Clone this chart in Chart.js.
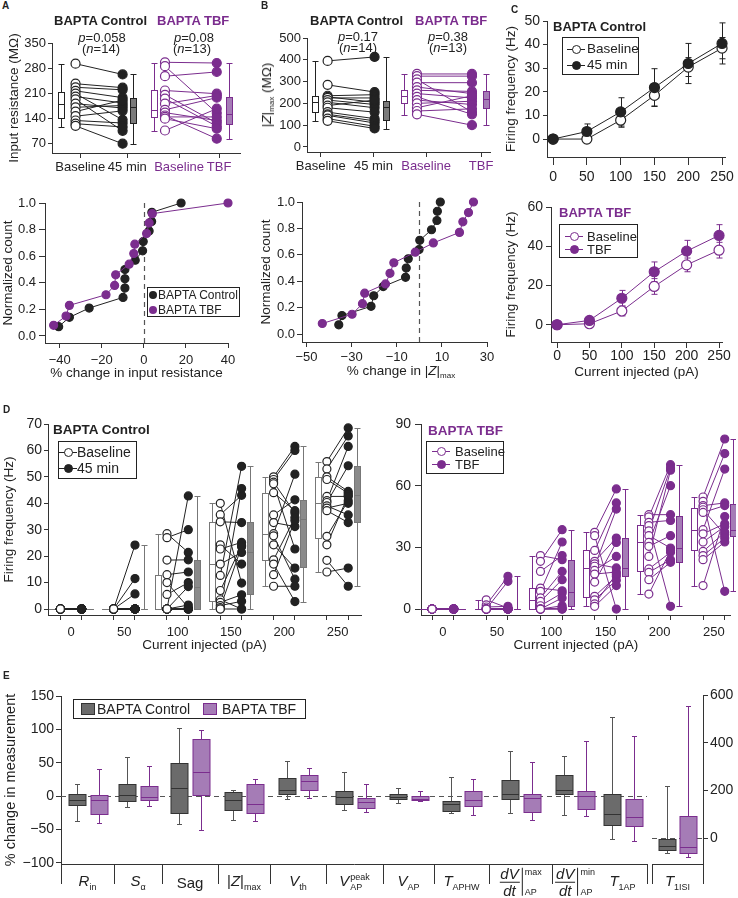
<!doctype html>
<html lang="en">
<head>
<meta charset="UTF-8">
<title>BAPTA Control vs BAPTA TBF</title>
<script src="https://cdn.jsdelivr.net/npm/chart.js@4.4.1/dist/chart.umd.min.js"></script>
<style>
    body { margin: 0; background: #fff; }
    #fig { position: relative; width: 738px; height: 898px; overflow: hidden; background: #fff;
           font-family: 'Liberation Sans', Arial, sans-serif; color: #222; }
    #fig canvas { position: absolute; }
    .t { position: absolute; white-space: nowrap; line-height: 1; }
    .t sub { font-size: 8px; vertical-align: -3px; }
    .cat { font-size: 15px; }
    .cat sub { font-size: 9px; vertical-align: -4px; }
    .ss { display: inline-flex; flex-direction: column; vertical-align: middle; font-size: 9px; line-height: 1.15; margin-left: 1px; }
    .frac { display: inline-flex; flex-direction: column; align-items: center; vertical-align: middle; line-height: 1.05; }
    .frac i:first-child { border-bottom: 1px solid #222; padding: 0 1px; }
    .evbar { display: inline-block; width: 0; height: 28px; border-left: 1px solid #222; vertical-align: middle; margin: 0 1px 0 2px; }
    .box { position: absolute; border: 1px solid #222; box-sizing: border-box; }
    .mk { position: absolute; box-sizing: border-box; }
</style>
</head>
<body>
<div id="fig"></div>
<script>
    // ---------- A: input resistance (MOhm), paired cells ----------
    var aCtrlBase = [292, 236, 226, 216, 208, 200, 192, 180, 170, 158, 145, 133, 124, 118];
    var aCtrlPost = [262, 225, 219, 197, 135, 182, 104, 168, 175, 190, 160, 126, 115, 68];
    var aTbfBase = [296, 285, 257, 217, 205, 194, 180, 163, 155, 147, 143, 138, 105];
    var aTbfPost = [294, 154, 269, 208, 126, 117, 203, 197, 133, 82, 143, 110, 166];
    // box stats are [min, q1, median, q3, max]
    var aCtrlBaseBox = [115, 140, 180, 214, 290];
    var aCtrlPostBox = [68, 126, 170, 197, 262];
    var aTbfBaseBox = [105, 143, 163, 217, 295];
    var aTbfPostBox = [82, 124, 152, 199, 294];
    var aTicks = [70, 140, 210, 280, 350];

    // ---------- B: |Z|max (MOhm) ----------
    var bCtrlBase = [395, 285, 235, 230, 225, 215, 205, 190, 180, 160, 150, 145, 130, 120];
    var bCtrlPost = [413, 252, 240, 205, 225, 195, 180, 215, 160, 130, 120, 110, 95, 85];
    var bTbfBase = [335, 325, 310, 295, 275, 260, 245, 230, 215, 200, 180, 165, 150];
    var bTbfPost = [335, 325, 160, 295, 245, 255, 225, 150, 195, 210, 235, 175, 100];
    var bCtrlBaseBox = [120, 162, 205, 232, 395];
    var bCtrlPostBox = [82, 125, 185, 210, 413];
    var bTbfBaseBox = [145, 200, 235, 262, 335];
    var bTbfPostBox = [100, 180, 218, 255, 335];
    var bTicks = [0, 100, 200, 300, 400, 500];
    var abLabels = ['Baseline', '45 min', 'Baseline', 'TBF'];

    // ---------- A/B lower: cumulative distributions ----------
    var cdfTicks = [0, 0.2, 0.4, 0.6, 0.8, 1.0];
    var ctrlCount = [0.07, 0.14, 0.21, 0.29, 0.36, 0.43, 0.5, 0.57, 0.64, 0.71, 0.79, 0.86, 0.93, 1.0];
    var tbfCount = [0.08, 0.15, 0.23, 0.31, 0.38, 0.46, 0.54, 0.62, 0.69, 0.77, 0.85, 0.92, 1.0];
    var aCdfCtrl = [-40.5, -35.4, -26, -9.9, -9, -9, -9, -4.1, -0.6, -0.3, 2.5, 3.7, 3.8, 17.7];
    var aCdfTbf = [-42.9, -37, -35.4, -18, -13.9, -13.4, -7, -4.8, -4.3, 1.3, 2.5, 4, 40];
    var bCdfCtrl = [-35.7, -34.3, -21.4, -20.2, -16, -6.1, -5.8, -4.9, -0.1, 0.2, 5.4, 7.8, 8, 9.3];
    var bCdfTbf = [-43, -29.8, -25.2, -24.2, -15, -13, -11.3, -1.8, 6.2, 17.8, 19.3, 21.8, 24];
    var aCdfTicks = [-40, -20, 0, 20, 40];
    var bCdfTicks = [-50, -30, -10, 10, 30];

    // ---------- C: mean firing frequency (Hz) +- error ----------
    var cX = [0, 50, 100, 150, 200, 250];
    var cCtrlBase = [0, 0, 8, 18.5, 30.5, 38.5];
    var cCtrlBaseErr = [0, 0, 3, 4.5, 4, 4.5];
    var cCtrlPost = [0, 3.2, 11.5, 21.8, 32, 40.5];
    var cCtrlPostErr = [0, 3.2, 6, 8, 8.5, 8.7];
    var cTbfBase = [0, 0.5, 7, 19.5, 30.5, 38];
    var cTbfBaseErr = [0, 0.5, 2.5, 4, 3.5, 4];
    var cTbfPost = [0, 2.2, 13.5, 27, 37.5, 45.5];
    var cTbfPostErr = [0, 1, 4, 5, 5.5, 5.5];

    // ---------- D: per-cell firing frequency, one list per current step ----------
    var dX = [0, 50, 100, 150, 200, 250];
    var dCtrlBase = [
        [0, 0, 0, 0, 0, 0, 0, 0, 0, 0, 0, 0, 0, 0],
        [0, 0, 0, 0, 0, 0, 0, 0, 0, 0, 0, 0, 0, 0],
        [28.5, 27, 18.5, 13, 10, 5.5, 0, 0, 0, 0, 0, 0, 0, 0],
        [40, 35.7, 33, 24.3, 22.7, 17, 12.7, 7, 3.5, 2.5, 1.3, 0.5, 0, 0],
        [50, 49, 48, 47.4, 44, 35.6, 32.7, 28.5, 27.7, 24.3, 18.6, 17, 13, 8.6],
        [55.8, 53, 50, 49, 42.6, 41, 40.3, 39, 38.2, 37.2, 27.5, 24.3, 18.4, 14]
    ];
    var dCtrlPost = [
        [0, 0, 0, 0, 0, 0, 0, 0, 0, 0, 0, 0, 0, 0],
        [24.2, 11.5, 5.7, 0, 0, 0, 0, 0, 0, 0, 0, 0, 0, 0],
        [21.4, 30, 18.6, 14, 0.5, 10, 42.8, 8.5, 1.5, 0, 0, 0, 0, 0],
        [9.8, 43, 32.7, 17, 25.2, 21.4, 54, 24, 0, 5.4, 2.9, 23.6, 45.6, 0],
        [61.5, 60, 36.3, 22.7, 37.2, 41.3, 31.2, 51, 11.3, 15.5, 34.6, 2.8, 33.5, 8.6],
        [68.5, 65.5, 44.5, 43.8, 42.6, 61.5, 54.2, 35.6, 40, 32.7, 41, 43, 8.6, 15.5]
    ];
    var dCtrlBaseBox = [[0, 0, 0, 0, 0], [0, 0, 0, 0, 0], [0, 0, 0, 13, 28.5],
        [0, 3, 17, 32.8, 40], [8.6, 18.6, 28.5, 44, 50], [14, 27, 40, 50, 55.8]];
    var dCtrlPostBox = [[0, 0, 0, 0, 0], [0, 0, 0, 0, 24.2], [0, 0, 8.5, 18.5, 42.8],
        [0, 5.7, 21.5, 32.8, 54], [2.8, 15.8, 34, 41.3, 61.5], [8.6, 32.8, 43, 54.2, 68.5]];
    var dTbfBase = [
        [0, 0, 0, 0, 0, 0, 0, 0, 0, 0, 0, 0, 0],
        [4.5, 2, 1, 0, 0, 0, 0, 0, 0, 0, 0, 0, 0],
        [26, 23.2, 18.3, 10.2, 8.6, 5.4, 3.7, 1.6, 0, 0, 0, 0, 0],
        [37.3, 35.7, 28.5, 23.2, 22, 20.8, 18.8, 17, 13.1, 6.2, 4.5, 2.5, 1.3],
        [45.9, 44.8, 42.2, 40.6, 38, 35.7, 32.4, 30.5, 25.6, 19.5, 17.8, 14.3, 7.3],
        [54.5, 52.4, 50.3, 49.5, 48.3, 47, 38.6, 36.6, 32.6, 28, 26, 24, 11.4]
    ];
    var dTbfPost = [
        [0, 0, 0, 0, 0, 0, 0, 0, 0, 0, 0, 0, 0],
        [0.5, 15.9, 1.3, 13.5, 0, 0, 0, 0, 0, 0, 0, 0, 0],
        [24, 38.6, 26, 8.9, 32.6, 18.3, 14.3, 7.8, 5.4, 1.6, 0.5, 0, 0],
        [58.4, 0, 51.6, 34.5, 20, 48.6, 25.6, 18, 32.4, 15.9, 14, 17, 11.4],
        [45.9, 70.2, 43.1, 1.3, 68.6, 29.7, 60, 35.7, 67.5, 27.6, 24, 22.7, 28.5],
        [82.7, 8.6, 51.6, 75.6, 36.2, 50.3, 68.1, 41.5, 40.2, 37.3, 34.5, 32.6, 45]
    ];
    var dTbfBaseBox = [[0, 0, 0, 0, 0], [0, 0, 0, 0, 4.5], [0, 0, 4.5, 10, 26],
        [1.3, 6, 20, 28.5, 37.3], [7.3, 18.5, 32.4, 41, 45.9], [11.4, 28.5, 38.6, 49, 54.5]];
    var dTbfPostBox = [[0, 0, 0, 0, 0], [0, 0, 0, 0, 15.9], [0, 1.6, 8.5, 24, 38.6],
        [0, 15.9, 20, 34.5, 58.4], [1.3, 22.7, 29.5, 45.4, 70.2], [8.6, 35.5, 38.6, 51, 82.7]];

    // ---------- E: % change per measurement, [min, q1, median, q3, max] ----------
    var eLabels = ['<i>R</i><sub>in</sub>', '<i>S</i><sub>&alpha;</sub>', 'Sag',
        '|<i>Z</i>|<sub>max</sub>', '<i>V</i><sub>th</sub>',
        '<i>V</i><span class="ss"><span>peak</span><span>AP</span></span>',
        '<i>V</i><sub>AP</sub>', '<i>T</i><sub>APHW</sub>',
        '<span class="frac"><i>dV</i><i>dt</i></span><span class="evbar"></span><span class="ss"><span>max</span><span>&nbsp;</span><span>AP</span></span>',
        '<span class="frac"><i>dV</i><i>dt</i></span><span class="evbar"></span><span class="ss"><span>min</span><span>&nbsp;</span><span>AP</span></span>',
        '<i>T</i><sub>1AP</sub>'];
    var eCtrl = [[-37, -13.5, -5, 4, 18], [-16, -7.5, 2.5, 19, 59], [-42, -25, 13, 49, 101.5],
        [-35, -20, -5, 6.5, 10], [-3.5, 3, 9, 27, 52.5], [-21, -12, -1, 8, 36.5],
        [-10, -3.5, -1, 4, 13], [-25, -22.5, -12, -7, 28], [-25, -4, 4, 24, 67.5],
        [-28.5, 4, 10, 31.5, 60], [-63.5, -42.5, -26, 4, 118]];
    var eTbf = [[-40, -26, -6, 2.5, 40], [-15, -5, -1, 15, 45], [-51, 2.5, 35.5, 85, 99],
        [-37, -25, -11, 19, 25], [-2, 9, 22.5, 32, 41.5], [-23.5, -17, -8.5, -2.5, 19],
        [-7, -6, -3.5, 0, 8], [-28.5, -15, -5, 8, 25], [-36, -23.5, -2, 4, 51.5],
        [-29.5, -18.5, 1, 8, 82.5], [-67.5, -44.5, -31, -4, 90]];
    var eIsiLabel = '<i>T</i><sub>1ISI</sub>';
    var eIsiCtrl = [-63, -49, -31, -4, 219];
    var eIsiTbf = [-80, -63, -38, 95, 554];
    var eTicks = [-100, -50, 0, 50, 100, 150];
    var eIsiTicks = [0, 200, 400, 600];

    // ---------- layout / style ----------
    var ink = '#222';
    var purple = '#7b2d8e';
    var purpleFill = '#a57cb6';
    var eGray = '#6b6b6b';
    var eCatWidths = [53, 48, 56, 52, 56, 57, 51, 55, 63, 46, 49];
    var dOff = 10, dBoxOff = 18;

    var fig = document.getElementById('fig');
    Chart.defaults.font.family = "'Liberation Sans', Arial, sans-serif";
    Chart.defaults.font.size = 13;
    Chart.defaults.color = ink;
    Chart.defaults.animation = false;
    Chart.defaults.responsive = false;
    Chart.defaults.devicePixelRatio = 1;
    Chart.defaults.events = [];
    Chart.defaults.plugins.legend.display = false;
    Chart.defaults.plugins.tooltip.enabled = false;

    var num = function (v) { return v < 0 ? '\u2212' + Math.abs(v) : String(v); };
    var fix1 = function (v) { return v.toFixed(1); };

    var axis = function (pos, min, max, ticks, o) {
        o = o || {};
        var horiz = pos === 'bottom';
        return {
            type: 'linear', position: pos, min: min, max: max,
            afterBuildTicks: function (s) { s.ticks = ticks.map(function (v) { return {value: v}; }); },
            afterFit: function (s) {
                if (horiz) s.height = o.size; else s.width = o.size;
                s.paddingLeft = s.paddingRight = s.paddingTop = s.paddingBottom = 0;
            },
            grid: {drawOnChartArea: false, drawTicks: true, tickLength: o.tl == null ? 5 : o.tl,
                color: '#333', tickColor: o.tickColor || '#333'},
            border: {display: true, color: '#333', width: 1},
            ticks: {padding: o.pad == null ? 3 : o.pad, autoSkip: false, maxRotation: 0, minRotation: 0,
                color: o.color || ink, font: {size: o.fs || 13}, callback: o.fmt || num},
            title: o.title ? {display: true, text: o.title, color: ink, font: {size: o.tfs || 13.5},
                padding: o.tpad || {top: 4, bottom: 4}} : {display: false}
        };
    };

    var makeChart = function (area, m, datasets, scales, plugins) {
        var cv = document.createElement('canvas');
        var w = area[2] - area[0] + m.l + m.r, h = area[3] - area[1] + m.t + m.b;
        cv.width = w;
        cv.height = h;
        cv.style.left = (area[0] - m.l) + 'px';
        cv.style.top = (area[1] - m.t) + 'px';
        fig.appendChild(cv);
        var yRight = scales.y.position === 'right';
        return new Chart(cv, {
            type: 'scatter',
            data: {datasets: datasets},
            options: {
                layout: {padding: {left: yRight ? m.l : 0, right: yRight ? 0 : m.r, top: m.t, bottom: 0}},
                scales: scales
            },
            plugins: plugins || []
        });
    };

    // box & whisker drawn through the chart scales
    var boxPlugin = function (items) {
        return {
            id: 'boxes',
            beforeDatasetsDraw: function (chart) {
                var ctx = chart.ctx, sx = chart.scales.x, sy = chart.scales.y;
                items.forEach(function (b) {
                    var x = Math.round(sx.getPixelForValue(b.x)) + 0.5, hw = b.w / 2, cw = (b.cap || b.w) / 2;
                    var p = b.s.map(function (v) { return Math.round(sy.getPixelForValue(v)) + 0.5; });
                    ctx.save();
                    ctx.lineWidth = 1;
                    ctx.strokeStyle = b.wc || b.lc;
                    ctx.beginPath();
                    ctx.moveTo(x, p[4]); ctx.lineTo(x, p[3]);
                    ctx.moveTo(x, p[1]); ctx.lineTo(x, p[0]);
                    ctx.moveTo(x - cw, p[4]); ctx.lineTo(x + cw, p[4]);
                    ctx.moveTo(x - cw, p[0]); ctx.lineTo(x + cw, p[0]);
                    ctx.stroke();
                    ctx.fillStyle = b.fc;
                    ctx.fillRect(x - hw, p[3], b.w, p[1] - p[3]);
                    ctx.strokeStyle = b.lc;
                    ctx.strokeRect(x - hw, p[3], b.w, p[1] - p[3]);
                    ctx.beginPath();
                    ctx.moveTo(x - hw, p[2]); ctx.lineTo(x + hw, p[2]);
                    ctx.stroke();
                    ctx.restore();
                });
            }
        };
    };

    var errPlugin = function (sets) {
        return {
            id: 'errs',
            beforeDatasetsDraw: function (chart) {
                var ctx = chart.ctx, sx = chart.scales.x, sy = chart.scales.y;
                sets.forEach(function (s) {
                    ctx.save();
                    ctx.strokeStyle = s.color;
                    ctx.lineWidth = 1;
                    ctx.beginPath();
                    s.xs.forEach(function (xv, i) {
                        if (!s.es[i]) return;
                        var x = Math.round(sx.getPixelForValue(xv)) + 0.5;
                        var hi = sy.getPixelForValue(s.ys[i] + s.es[i]), lo = sy.getPixelForValue(s.ys[i] - s.es[i]);
                        ctx.moveTo(x, hi); ctx.lineTo(x, lo);
                        ctx.moveTo(x - 3, hi); ctx.lineTo(x + 3, hi);
                        ctx.moveTo(x - 3, lo); ctx.lineTo(x + 3, lo);
                    });
                    ctx.stroke();
                    ctx.restore();
                });
            }
        };
    };

    var zeroPlugin = function (axisId, value) {
        return {
            id: 'zero',
            beforeDatasetsDraw: function (chart) {
                var ctx = chart.ctx, a = chart.chartArea, s = chart.scales[axisId];
                var p = Math.round(s.getPixelForValue(value)) + 0.5;
                ctx.save();
                ctx.strokeStyle = '#555';
                ctx.lineWidth = 1.2;
                ctx.setLineDash([5, 4]);
                ctx.beginPath();
                if (axisId === 'x') { ctx.moveTo(p, a.top); ctx.lineTo(p, a.bottom); }
                else { ctx.moveTo(a.left, p); ctx.lineTo(a.right, p); }
                ctx.stroke();
                ctx.restore();
            }
        };
    };

    var column = function (x, vals) { return vals.map(function (v) { return {x: x, y: v}; }); };
    var pairs = function (xa, xb, A, B) {
        var d = [];
        A.forEach(function (a, i) { d.push({x: xa, y: a}, {x: xb, y: B[i]}, {x: xb, y: null}); });
        return d;
    };
    var xy = function (xs, ys) { return xs.map(function (x, i) { return {x: x, y: ys[i]}; }); };
    var ptsDs = function (data, color, open, r) {
        return {data: data, showLine: false, pointRadius: r, pointHoverRadius: r,
            pointBackgroundColor: open ? '#fff' : color, pointBorderColor: color, pointBorderWidth: 1.2, clip: false};
    };
    var lineDs = function (data, color, r, open) {
        return {data: data, showLine: true, borderColor: color, borderWidth: 1, spanGaps: false,
            pointRadius: r, pointHoverRadius: r, pointBackgroundColor: open ? '#fff' : color,
            pointBorderColor: color, pointBorderWidth: 1.2, clip: false};
    };

    // ---------- panel A / B (paired plots) ----------
    var pairedPanel = function (area, m, yMin, yMax, yTicks, tickPos, pos, cb, cp, tb, tp, boxes, yTitle) {
        var bx = [
            {x: pos[0], s: boxes[0], w: 6, lc: ink, fc: '#fff'},
            {x: pos[3], s: boxes[1], w: 6, lc: ink, fc: '#7a7a7a'},
            {x: pos[4], s: boxes[2], w: 6, lc: purple, fc: '#fff'},
            {x: pos[7], s: boxes[3], w: 6, lc: purple, fc: purpleFill}
        ];
        return makeChart(area, m, [
            ptsDs(column(pos[2], cp), ink, false, 4.5),
            ptsDs(column(pos[1], cb), ink, true, 4.5),
            ptsDs(column(pos[6], tp), purple, false, 4.5),
            ptsDs(column(pos[5], tb), purple, true, 4.5),
            lineDs(pairs(pos[1], pos[2], cb, cp), ink, 0),
            lineDs(pairs(pos[5], pos[6], tb, tp), purple, 0)
        ], {
            x: axis('bottom', 0, 8, tickPos, {size: m.b, tl: 5, pad: 2,
                fmt: function (v, i) { return abLabels[i]; },
                color: function (c) { return c.index < 2 ? ink : purple; }}),
            y: axis('left', yMin, yMax, yTicks, {size: m.l, tl: 4, pad: 2, title: yTitle, tpad: {top: 6}})
        }, [boxPlugin(bx)]);
    };

    pairedPanel([52, 43, 242, 153], {l: 52, t: 10, r: 4, b: 24}, 42, 350, aTicks,
        [1.2, 3.2, 5.4, 7.1], [0.4, 1.0, 3.0, 3.45, 4.35, 4.8, 7.0, 7.5],
        aCtrlBase, aCtrlPost, aTbfBase, aTbfPost,
        [aCtrlBaseBox, aCtrlPostBox, aTbfBaseBox, aTbfPostBox], 'Input resistance (M\u03a9)');

    pairedPanel([307, 38, 492, 152], {l: 62, t: 8, r: 4, b: 24}, -23, 500, bTicks,
        [0.6, 2.9, 5.2, 7.6], [0.35, 0.9, 2.95, 3.45, 4.25, 4.8, 7.2, 7.8],
        bCtrlBase, bCtrlPost, bTbfBase, bTbfPost,
        [bCtrlBaseBox, bCtrlPostBox, bTbfBaseBox, bTbfPostBox], null);

    // ---------- cumulative plots ----------
    makeChart([45, 203, 228, 343], {l: 45, t: 10, r: 14, b: 40}, [
        lineDs(xy(aCdfTbf, tbfCount), purple, 4),
        lineDs(xy(aCdfCtrl, ctrlCount), ink, 4)
    ], {
        x: axis('bottom', -47, 40, aCdfTicks, {size: 40, tl: 5, pad: 5, title: '% change in input resistance', tpad: {top: 0, bottom: 2}}),
        y: axis('left', -0.053, 1.0, cdfTicks, {size: 45, tl: 6, pad: 3, fmt: fix1, title: 'Normalized count', tpad: {top: 0}})
    }, [zeroPlugin('x', 0)]);

    makeChart([302, 202, 487, 342], {l: 57, t: 10, r: 8, b: 40}, [
        lineDs(xy(bCdfTbf, tbfCount), purple, 4),
        lineDs(xy(bCdfCtrl, ctrlCount), ink, 4)
    ], {
        x: axis('bottom', -52, 30, bCdfTicks, {size: 40, tl: 5, pad: 3}),
        y: axis('left', -0.06, 1.0, cdfTicks, {size: 57, tl: 5, pad: 2, fmt: fix1, title: 'Normalized count', tpad: {top: 13}})
    }, [zeroPlugin('x', 0)]);

    // ---------- C: mean F-I curves ----------
    makeChart([547, 21, 725, 157], {l: 50, t: 10, r: 13, b: 30}, [
        lineDs(xy(cX, cCtrlPost), ink, 5, false),
        lineDs(xy(cX, cCtrlBase), ink, 5, true)
    ], {
        x: axis('bottom', -9, 254.4, cX, {size: 30, tl: 8, pad: 4, fs: 14}),
        y: axis('left', -7.6, 50, [0, 10, 20, 30, 40, 50], {size: 50, tl: 4, pad: 3, fs: 14, title: 'Firing frequency (Hz)', tpad: {top: 6}})
    }, [errPlugin([{xs: cX, ys: cCtrlPost, es: cCtrlPostErr, color: ink}, {xs: cX, ys: cCtrlBase, es: cCtrlBaseErr, color: ink}])]);

    makeChart([551, 207, 722, 342], {l: 54, t: 10, r: 16, b: 40}, [
        lineDs(xy(cX, cTbfPost), purple, 5, false),
        lineDs(xy(cX, cTbfBase), purple, 5, true)
    ], {
        x: axis('bottom', -9.3, 254.6, cX, {size: 40, tl: 6, pad: 0, fs: 14, title: 'Current injected (pA)', tpad: {top: 0, bottom: 2}}),
        y: axis('left', -8.8, 60, [0, 20, 40, 60], {size: 54, tl: 5, pad: 3, fs: 14, title: 'Firing frequency (Hz)', tpad: {top: 6}})
    }, [errPlugin([{xs: cX, ys: cTbfPost, es: cTbfPostErr, color: purple}, {xs: cX, ys: cTbfBase, es: cTbfBaseErr, color: purple}])]);

    // ---------- D: per-cell F-I ----------
    var dTickVals = [];
    dX.forEach(function (g) { dTickVals.push(g - dOff, g, g + dOff); });
    var dXAxis = function (min, max) {
        return axis('bottom', min, max, dTickVals, {size: 40, tl: 5, pad: 5,
            fmt: function (v) { return v % 50 === 0 ? String(v) : ''; },
            tickColor: function (c) { return c.tick && c.tick.value % 50 === 0 ? 'rgba(0,0,0,0)' : '#333'; },
            title: 'Current injected (pA)', tpad: {top: 0, bottom: 2}});
    };
    var dPanel = function (area, m, base, post, baseBox, postBox, color, boxLine, boxFill, yMin, yMax, yTicks, xMin, xMax, yTitle) {
        var lines = [], bp = [], pp = [], bx = [];
        dX.forEach(function (g, k) {
            lines = lines.concat(pairs(g - dOff, g + dOff, base[k], post[k]));
            bp = bp.concat(column(g - dOff, base[k]));
            pp = pp.concat(column(g + dOff, post[k]));
            bx.push({x: g - dBoxOff, s: baseBox[k], w: 6, lc: boxLine, wc: boxLine, fc: '#fff'});
            bx.push({x: g + dBoxOff, s: postBox[k], w: 6, lc: boxLine, wc: boxLine, fc: boxFill});
        });
        return makeChart(area, m, [
            ptsDs(pp, color, false, 4),
            ptsDs(bp, color, true, 4),
            lineDs(lines, color, 0)
        ], {
            x: dXAxis(xMin, xMax),
            y: axis('left', yMin, yMax, yTicks, {size: m.l, tl: yTitle ? 4 : 6, pad: yTitle ? 2 : 4, fs: 14,
                title: yTitle, tpad: {top: 1}})
        }, [boxPlugin(bx)]);
    };
    dPanel([48, 424, 361, 615], {l: 48, t: 10, r: 8, b: 40}, dCtrlBase, dCtrlPost, dCtrlBaseBox, dCtrlPostBox,
        ink, '#777', '#8a8a8a', -2.27, 70, [0, 10, 20, 30, 40, 50, 60, 70], -21.6, 272, 'Firing frequency (Hz)');
    dPanel([421, 424, 732, 615], {l: 40, t: 10, r: 4, b: 40}, dTbfBase, dTbfPost, dTbfBaseBox, dTbfPostBox,
        purple, purple, purpleFill, -2.9, 90, [0, 30, 60, 90], -20.2, 265.6, null);

    // ---------- E: % change box plots ----------
    var eEdges = [0];
    eCatWidths.forEach(function (w, i) { eEdges.push(eEdges[i] + w); });
    var eBoxes = [];
    eCtrl.forEach(function (s, i) {
        var c = (eEdges[i] + eEdges[i + 1]) / 2;
        eBoxes.push({x: c - 11, s: s, w: 17, cap: 5, lc: '#333', wc: '#555', fc: eGray});
        eBoxes.push({x: c + 11, s: eTbf[i], w: 17, cap: 5, lc: purple, wc: purple, fc: purpleFill});
    });
    var eChart = makeChart([61, 696, 647, 864], {l: 61, t: 8, r: 4, b: 34}, [ptsDs([], ink, false, 0)], {
        x: axis('bottom', 0, eEdges[eEdges.length - 1], eEdges, {size: 34, tl: 20, pad: 0,
            fmt: function () { return ''; },
            tickColor: function (c) { return c.index === 10 ? 'rgba(0,0,0,0)' : '#333'; }}),
        y: axis('left', -101.5, 150, eTicks, {size: 61, tl: 5, pad: 2, fs: 14, title: '% change in measurement', tfs: 14.5, tpad: {top: 2}})
    }, [zeroPlugin('y', 0), boxPlugin(eBoxes)]);

    var eIsiChart = makeChart([652, 695, 703, 864], {l: 4, t: 8, r: 35, b: 34}, [ptsDs([], ink, false, 0)], {
        x: axis('bottom', 0, 1, [0, 1], {size: 34, tl: 20, pad: 0, fmt: function () { return ''; }}),
        y: axis('right', -107.6, 600, eIsiTicks, {size: 35, tl: 5, pad: 2, fs: 14})
    }, [zeroPlugin('y', 0), boxPlugin([
        {x: 0.3, s: eIsiCtrl, w: 17, cap: 5, lc: '#333', wc: '#555', fc: eGray},
        {x: 0.7, s: eIsiTbf, w: 17, cap: 5, lc: purple, wc: purple, fc: purpleFill}
    ])]);

    // ---------- text ----------
    var txt = function (html, x, y, o) {
        o = o || {};
        var d = document.createElement('div');
        d.className = 't' + (o.cls ? ' ' + o.cls : '');
        d.innerHTML = html;
        d.style.left = x + 'px';
        d.style.top = y + 'px';
        d.style.fontSize = (o.fs || 13) + 'px';
        if (o.bold) d.style.fontWeight = 'bold';
        if (o.color) d.style.color = o.color;
        d.style.transform = o.rot ? 'translate(-50%,-50%) rotate(-90deg)' :
            (o.a === 'c' ? 'translate(-50%,-50%)' : 'translate(0,-50%)');
        fig.appendChild(d);
        return d;
    };

    txt('A', 2, 6, {bold: true, fs: 10});
    txt('B', 261, 6, {bold: true, fs: 10});
    txt('C', 511, 10, {bold: true, fs: 10});
    txt('D', 3, 410, {bold: true, fs: 10});
    txt('E', 3, 676, {bold: true, fs: 10});

    txt('BAPTA Control', 54, 20, {bold: true});
    txt('BAPTA TBF', 157, 20, {bold: true, color: purple});
    txt('<i>p</i>=0.058', 102, 37, {a: 'c'});
    txt('(<i>n</i>=14)', 101, 48, {a: 'c'});
    txt('<i>p</i>=0.08', 194, 37, {a: 'c'});
    txt('(<i>n</i>=13)', 192, 48, {a: 'c'});

    txt('BAPTA Control', 310, 20, {bold: true});
    txt('BAPTA TBF', 415, 20, {bold: true, color: purple});
    txt('<i>p</i>=0.17', 358, 36, {a: 'c'});
    txt('(<i>n</i>=14)', 358, 47, {a: 'c'});
    txt('<i>p</i>=0.38', 448, 36, {a: 'c'});
    txt('(<i>n</i>=13)', 448, 47, {a: 'c'});
    txt('|<i>Z</i>|<sub>max</sub> (M\u03a9)', 268, 95, {rot: true, fs: 13.5});
    txt('% change in |<i>Z</i>|<sub>max</sub>', 401, 372, {a: 'c', fs: 13.5});

    txt('BAPTA Control', 553, 26, {bold: true});
    txt('BAPTA TBF', 559, 212, {bold: true, color: purple});
    txt('BAPTA Control', 53, 430, {bold: true, fs: 13.5});
    txt('BAPTA TBF', 428, 431, {bold: true, color: purple, fs: 13.5});

    var mk = function (x, y, w, h, css) {
        var d = document.createElement('div');
        d.className = 'mk';
        d.style.cssText += 'left:' + x + 'px;top:' + y + 'px;width:' + w + 'px;height:' + h + 'px;' + css;
        fig.appendChild(d);
    };
    var legend = function (box, entries, fs) {
        var b = document.createElement('div');
        b.className = 'box';
        b.style.left = box[0] + 'px';
        b.style.top = box[1] + 'px';
        b.style.width = (box[2] - box[0]) + 'px';
        b.style.height = (box[3] - box[1]) + 'px';
        fig.appendChild(b);
        entries.forEach(function (e) {
            if (e.kind === 'line') {
                mk(e.mx - 9, e.cy, 18, 0, 'border-top:1px solid ' + e.color + ';');
                mk(e.mx - 4.5, e.cy - 4, 9, 9, 'border-radius:50%;border:1.2px solid ' + e.color + ';background:' + e.fill + ';');
            } else if (e.kind === 'dot') {
                mk(e.mx - 4, e.cy - 4, 8, 8, 'border-radius:50%;background:' + e.color + ';');
            } else {
                mk(e.mx - 7, e.cy - 6, 14, 12, 'border:1px solid ' + e.color + ';background:' + e.fill + ';');
            }
            txt(e.text, e.tx, e.cy, {fs: fs});
        });
    };
    legend([562, 37, 639, 75], [
        {kind: 'line', mx: 576, cy: 49, tx: 587, text: 'Baseline', color: ink, fill: '#fff'},
        {kind: 'line', mx: 576, cy: 65, tx: 587, text: '45 min', color: ink, fill: ink}
    ], 13.5);
    legend([559, 224, 638, 258], [
        {kind: 'line', mx: 574, cy: 236, tx: 587, text: 'Baseline', color: purple, fill: '#fff'},
        {kind: 'line', mx: 574, cy: 249, tx: 587, text: 'TBF', color: purple, fill: purple}
    ], 13);
    legend([147, 287, 240, 317], [
        {kind: 'dot', mx: 153, cy: 295, tx: 158, text: 'BAPTA Control', color: ink},
        {kind: 'dot', mx: 153, cy: 310, tx: 158, text: 'BAPTA TBF', color: purple}
    ], 12);
    legend([58, 441, 137, 479], [
        {kind: 'line', mx: 68, cy: 452, tx: 77, text: 'Baseline', color: ink, fill: '#fff'},
        {kind: 'line', mx: 68, cy: 468, tx: 77, text: '45 min', color: ink, fill: ink}
    ], 14);
    legend([426, 441, 504, 474], [
        {kind: 'line', mx: 441, cy: 451, tx: 455, text: 'Baseline', color: purple, fill: '#fff'},
        {kind: 'line', mx: 441, cy: 464, tx: 455, text: 'TBF', color: purple, fill: purple}
    ], 13);
    legend([73, 699, 306, 719], [
        {kind: 'sq', mx: 88, cy: 709, tx: 97, text: 'BAPTA Control', color: '#333', fill: eGray},
        {kind: 'sq', mx: 210, cy: 709, tx: 222, text: 'BAPTA TBF', color: purple, fill: purpleFill}
    ], 14);

    // category labels of E, centred on the categories of the x scale
    var eLeft = eChart.canvas.offsetLeft;
    eLabels.forEach(function (html, i) {
        var px = eChart.scales.x.getPixelForValue((eEdges[i] + eEdges[i + 1]) / 2) + eLeft;
        txt(html, px, 882, {a: 'c', cls: 'cat', fs: 15});
    });
    txt(eIsiLabel, eIsiChart.scales.x.getPixelForValue(0.5) + eIsiChart.canvas.offsetLeft, 882, {a: 'c', cls: 'cat', fs: 15});
</script>
</body>
</html>
